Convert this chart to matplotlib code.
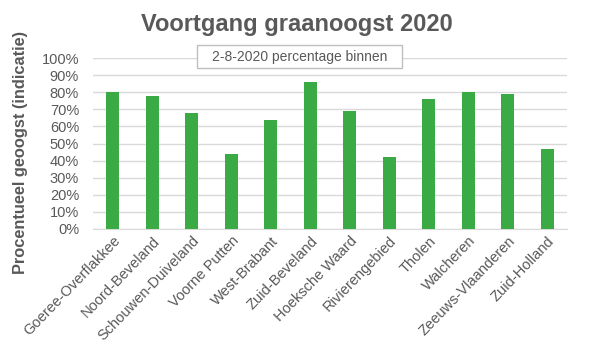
import matplotlib.pyplot as plt
import numpy as np
from matplotlib.patches import Rectangle
from matplotlib.ticker import PercentFormatter

regios = ['Goeree-Overflakkee', 'Noord-Beveland', 'Schouwen-Duiveland', 'Voorne Putten',
          'West-Brabant', 'Zuid-Beveland', 'Hoeksche Waard', 'Rivierengebied',
          'Tholen', 'Walcheren', 'Zeeuws-Vlaanderen', 'Zuid-Holland']
binnen = [80, 78, 68, 44, 64, 86, 69, 42, 76, 80, 79, 47]
yticks = np.arange(0, 101, 10)

grijs = '#595959'
plt.rcParams['font.family'] = ['Liberation Sans', 'DejaVu Sans']

W, H = 596, 353
fig = plt.figure(figsize=(W / 100, H / 100), dpi=100)
ax = fig.add_axes([93/W, 1 - 229/H, 474/W, 171/H])

x = np.arange(len(regios))
ax.bar(x, binnen, width=0.32, color='#3AAA44', zorder=3)

ax.set_xlim(-0.5, len(regios) - 0.5)
ax.set_ylim(0, 100)
ax.set_yticks(yticks)
ax.yaxis.set_major_formatter(PercentFormatter(decimals=0))
ax.grid(axis='y', color='#d9d9d9', linewidth=1, zorder=0)
for s in ax.spines.values():
    s.set_visible(False)
ax.spines['bottom'].set_visible(True)
ax.spines['bottom'].set_color('#d9d9d9')
ax.tick_params(length=0, colors=grijs, labelsize=10.5)
ax.tick_params(axis='y', pad=10)
ax.set_xticks(x)
ax.set_xticklabels(regios, rotation=46, ha='right', rotation_mode='anchor')

# titels
fig.text(21/W, 1 - 152/H, 'Procentueel geoogst (indicatie)', rotation=90, ha='center', va='center',
         fontsize=11.8, fontweight='bold', color=grijs)
fig.text(297/W, 1 - 24/H, 'Voortgang graanoogst 2020', ha='center', va='center',
         fontsize=17, fontweight='bold', color=grijs)

# tekstvak
fig.patches.append(Rectangle((197/W, 1 - 68/H), 205/W, 23/H, transform=fig.transFigure,
                             fc='white', ec='#bfbfbf', lw=1, zorder=5))
fig.text(300/W, 1 - 56.5/H, '2-8-2020 percentage binnen', ha='center', va='center',
         fontsize=10, color=grijs, zorder=6)

fig.savefig('out.png', dpi=100)
